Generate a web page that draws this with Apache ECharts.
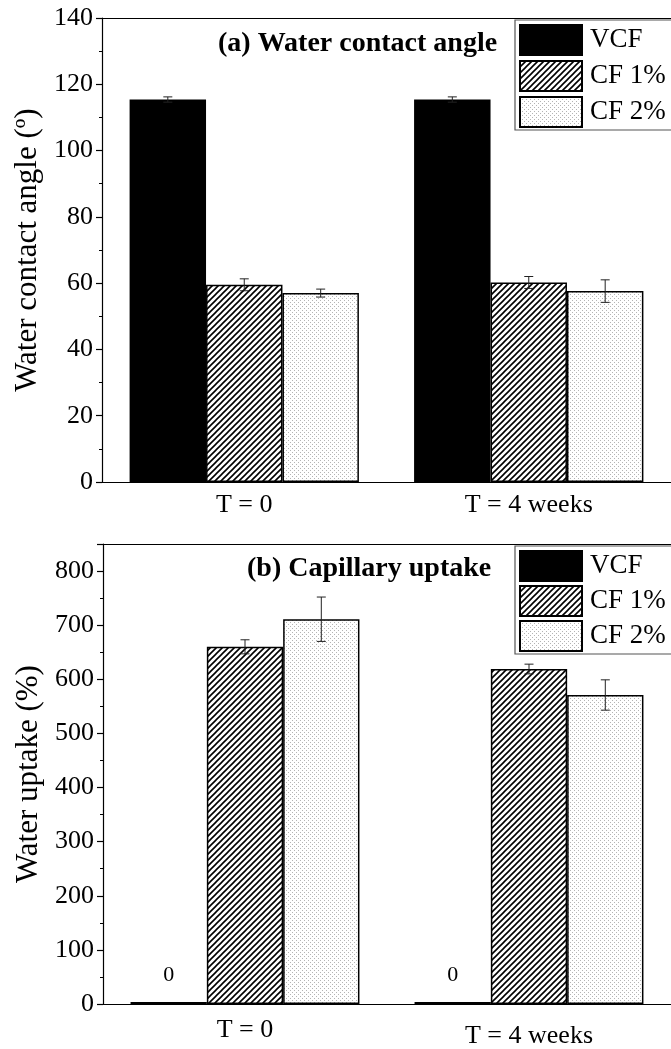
<!DOCTYPE html>
<html>
<head>
<meta charset="utf-8">
<title>Water contact angle and capillary uptake</title>
<script src="https://cdn.jsdelivr.net/npm/echarts@6/dist/echarts.min.js"></script>
<style>
  html, body { margin: 0; padding: 0; background: #fff; }
  #chart { width: 671px; height: 1049px; }
</style>
</head>
<body>
<div id="chart"></div>
<script>
// data
const categories = ['T = 0', 'T = 4 weeks']
const seriesNames = ['VCF', 'CF 1%', 'CF 2%']

const angleVCF = [115.4, 115.4]
const angleCF1 = [59.5, 60.2]
const angleCF2 = [57.0, 57.6]
const angleErrVCF = [0.8, 0.8]
const angleErrCF1 = [1.8, 1.8]
const angleErrCF2 = [1.2, 3.4]

const uptakeVCF = [0, 0]
const uptakeCF1 = [660, 619]
const uptakeCF2 = [711, 571]
const uptakeErrVCF = [0, 0]
const uptakeErrCF1 = [13, 9]
const uptakeErrCF2 = [41, 28]

const angleTicks = { min: 0, max: 140, interval: 20 }
const uptakeTicks = { min: 0, max: 850, interval: 100 }

const FONT = "'Liberation Serif', 'Times New Roman', serif"
const GAP = 0.194

// fill patterns
function hatchPattern () {
  const c = document.createElement('canvas')
  c.width = 6
  c.height = 6
  const ctx = c.getContext('2d')
  ctx.fillStyle = '#fff'
  ctx.fillRect(0, 0, 6, 6)
  ctx.strokeStyle = '#000'
  ctx.lineWidth = 1.6
  ctx.beginPath()
  ctx.moveTo(-1, 7); ctx.lineTo(7, -1)
  ctx.moveTo(-4, 4); ctx.lineTo(4, -4)
  ctx.moveTo(2, 10); ctx.lineTo(10, 2)
  ctx.stroke()
  return { image: c, repeat: 'repeat' }
}
function dotPattern () {
  const c = document.createElement('canvas')
  c.width = 4
  c.height = 4
  const ctx = c.getContext('2d')
  ctx.fillStyle = '#fff'
  ctx.fillRect(0, 0, 4, 4)
  ctx.fillStyle = '#b4b4b4'
  ctx.fillRect(0, 0, 1, 1)
  ctx.fillRect(2, 2, 1, 1)
  return { image: c, repeat: 'repeat' }
}
const fills = ['#000', hatchPattern(), dotPattern()]

function barSeries (name, k, data, axis, extra) {
  return Object.assign({
    name: name,
    type: 'bar',
    xAxisIndex: axis,
    yAxisIndex: axis,
    data: data,
    barGap: '0%',
    barCategoryGap: (GAP * 100) + '%',
    itemStyle: { color: fills[k], borderColor: '#000', borderWidth: 1.5 }
  }, extra || {})
}

function errorSeries (k, means, errs, axis) {
  return {
    type: 'custom',
    xAxisIndex: axis,
    yAxisIndex: axis,
    z: 5,
    silent: true,
    data: means.map((m, i) => [i, m, errs[i]]),
    renderItem: function (params, api) {
      const err = api.value(2)
      if (!err) return
      const idx = api.value(0)
      const mean = api.value(1)
      const band = api.size([1, 0])[0]
      const barW = band * (1 - GAP) / 3
      const x = api.coord([idx, mean])[0] - band * (1 - GAP) / 2 + barW * (k + 0.5)
      const yHi = api.coord([idx, mean + err])[1]
      const yLo = api.coord([idx, mean - err])[1]
      const cap = 4.5
      const style = { stroke: '#222', lineWidth: 1 }
      return {
        type: 'group',
        children: [
          { type: 'line', shape: { x1: x, y1: yHi, x2: x, y2: yLo }, style: style },
          { type: 'line', shape: { x1: x - cap, y1: yHi, x2: x + cap, y2: yHi }, style: style },
          { type: 'line', shape: { x1: x - cap, y1: yLo, x2: x + cap, y2: yLo }, style: style }
        ]
      }
    }
  }
}

function yAxisFor (gridIndex, name, ticks) {
  return {
    type: 'value',
    gridIndex: gridIndex,
    min: ticks.min,
    max: ticks.max,
    interval: ticks.interval,
    name: name,
    nameLocation: 'middle',
    nameGap: 54,
    nameTextStyle: { fontFamily: FONT, fontSize: 31, color: '#000' },
    axisLine: { show: true, lineStyle: { color: '#000', width: 1.2 } },
    axisTick: { show: true, length: 6, lineStyle: { color: '#000', width: 1.2 } },
    minorTick: { show: true, splitNumber: 2, length: 3, lineStyle: { color: '#000', width: 1 } },
    axisLabel: { fontFamily: FONT, fontSize: 26, color: '#000', margin: 9, showMaxLabel: ticks.max % ticks.interval === 0 },
    splitLine: { show: false }
  }
}

function xAxisFor (gridIndex, labelMargin, secondPad) {
  return {
    type: 'category',
    gridIndex: gridIndex,
    data: categories.map((c, i) => i === 1 ? { value: c, textStyle: { padding: [secondPad, 0, 0, 0] } } : c),
    axisLine: { lineStyle: { color: '#000', width: 1.2 } },
    axisTick: { show: false },
    axisLabel: { fontFamily: FONT, fontSize: 26, color: '#000', margin: labelMargin }
  }
}

function frameTop (gridIndex) {
  return {
    type: 'category',
    gridIndex: gridIndex,
    position: 'top',
    data: categories,
    axisLine: { lineStyle: { color: '#000', width: 1.2 } },
    axisTick: { show: false },
    axisLabel: { show: false }
  }
}

function legendFor (top, gap) {
  return {
    data: seriesNames,
    orient: 'vertical',
    left: 515,
    top: top,
    icon: 'rect',
    itemWidth: 62,
    itemHeight: 30,
    itemGap: gap,
    padding: [4, 80, 2, 4],
    borderColor: '#555',
    borderWidth: 1.2,
    selectedMode: false,
    textStyle: { fontFamily: FONT, fontSize: 27, color: '#000', padding: [0, 0, 0, 3] }
  }
}

const chart = echarts.init(document.getElementById('chart'), null, { renderer: 'canvas' })

const option = {
  backgroundColor: '#fff',
  animation: false,
  title: [
    { text: '(a) Water contact angle', left: 218, top: 30, padding: 0,
      textStyle: { fontFamily: FONT, fontSize: 28, fontWeight: 'bold', color: '#000' } },
    { text: '(b) Capillary uptake', left: 247, top: 555, padding: 0,
      textStyle: { fontFamily: FONT, fontSize: 28, fontWeight: 'bold', color: '#000' } }
  ],
  legend: [legendFor(20, 4), legendFor(546, 3)],
  grid: [
    { left: 102, top: 18, width: 573, height: 464 },
    { left: 103, top: 544, width: 573, height: 460 }
  ],
  xAxis: [xAxisFor(0, 10, 0), xAxisFor(1, 13, 6), frameTop(0), frameTop(1)],
  yAxis: [
    yAxisFor(0, 'Water contact angle (º)', angleTicks),
    yAxisFor(1, 'Water uptake (%)', uptakeTicks)
  ],
  series: [
    barSeries(seriesNames[0], 0, angleVCF, 0),
    barSeries(seriesNames[1], 1, angleCF1, 0),
    barSeries(seriesNames[2], 2, angleCF2, 0),
    errorSeries(0, angleVCF, angleErrVCF, 0),
    errorSeries(1, angleCF1, angleErrCF1, 0),
    errorSeries(2, angleCF2, angleErrCF2, 0),
    barSeries(seriesNames[0], 0, uptakeVCF, 1, {
      barMinHeight: 2,
      itemStyle: { color: '#000', borderWidth: 0 },
      label: { show: true, position: 'top', distance: 16, fontFamily: FONT, fontSize: 22, color: '#000',
        formatter: p => String(p.value) }
    }),
    barSeries(seriesNames[1], 1, uptakeCF1, 1),
    barSeries(seriesNames[2], 2, uptakeCF2, 1),
    errorSeries(0, uptakeVCF, uptakeErrVCF, 1),
    errorSeries(1, uptakeCF1, uptakeErrCF1, 1),
    errorSeries(2, uptakeCF2, uptakeErrCF2, 1)
  ]
}

chart.setOption(option)
</script>
</body>
</html>
